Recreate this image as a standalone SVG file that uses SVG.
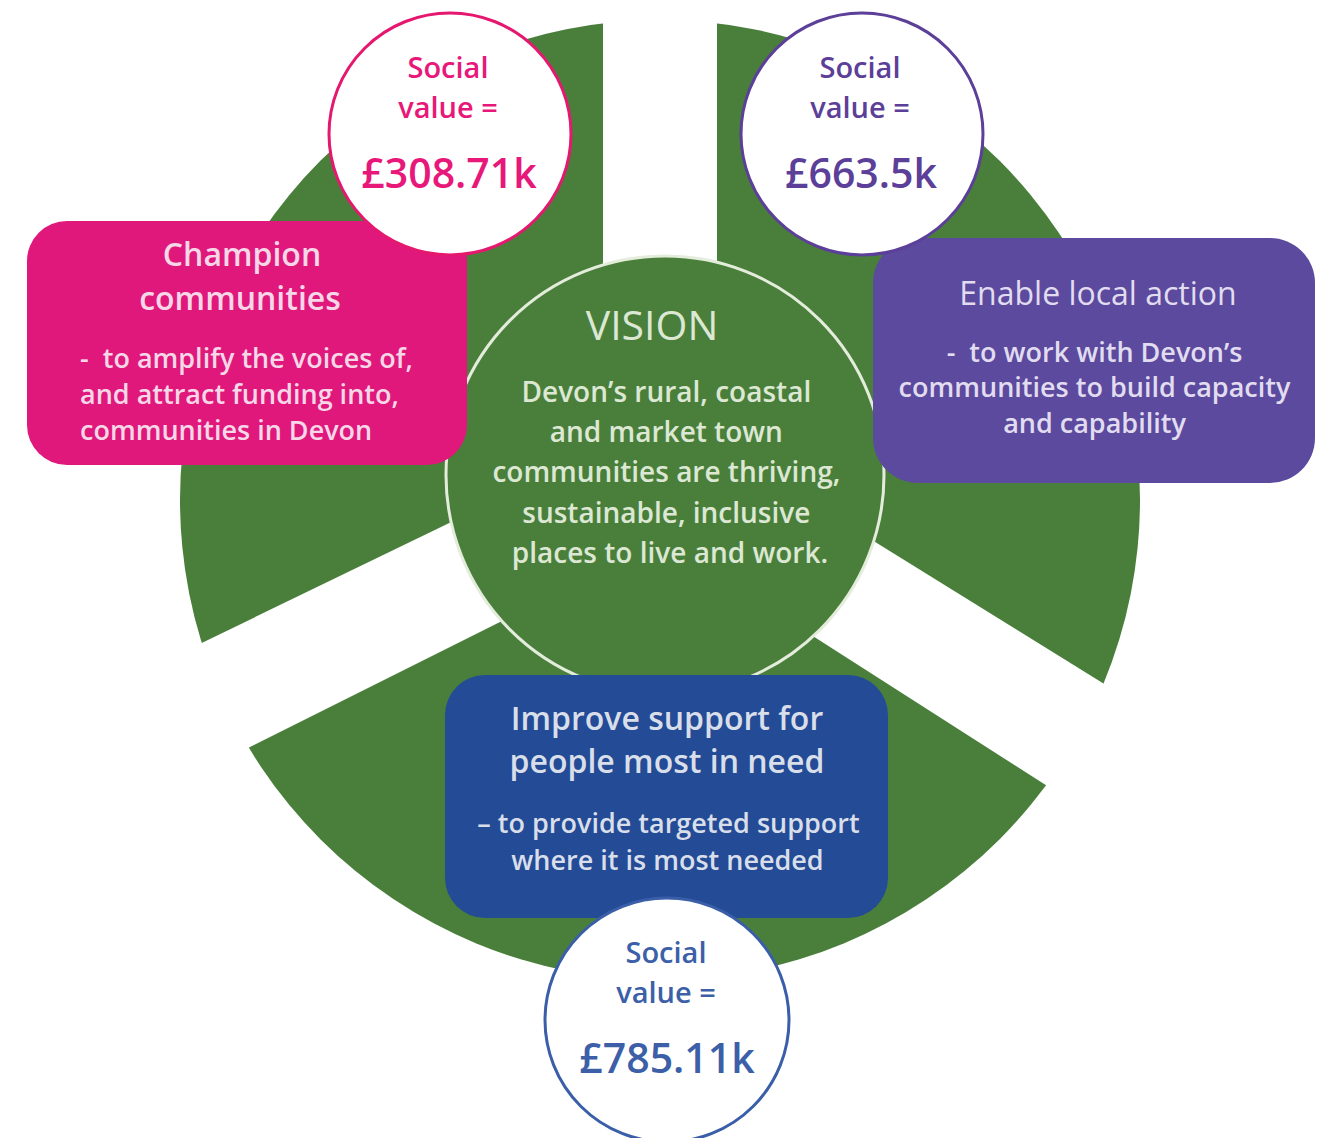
<svg xmlns="http://www.w3.org/2000/svg" width="1332" height="1138" viewBox="0 0 1332 1138">
<defs>
<style>
.bg{fill:#ffffff}
.green{fill:#4a7f3b}
.gap{fill:#ffffff}
.vision{fill:#4a7f3b;stroke:#e4ecdc;stroke-width:3}
.pinkbox{fill:#e0187c}
.purplebox{fill:#5b4a9e}
.bluebox{fill:#244b95}
.sv{fill:#ffffff;stroke-width:3}
.t{font-family:"Open Sans","Noto Sans",sans-serif;text-anchor:middle}
.title{font-size:32px;font-weight:600}
.body{font-size:27px;font-weight:600;white-space:pre}
.vt{fill:#dce8d3}
.pt{fill:#f6d7e7}
.ut{fill:#e1dcef}
.bt{fill:#d9dfea}
.svs{font-size:29px;font-weight:600}
.sva{font-size:41px;font-weight:600}
</style>
</defs>
<rect class="bg" x="0" y="0" width="1332" height="1138"/>
<g id="wheel">
<circle class="green" cx="660" cy="500" r="480"/>
<rect class="gap" x="603" y="0" width="114" height="300"/>
<polygon class="gap" points="150,668 600,450 600,572 150,797"/>
<polygon class="gap" points="730,452 1180,731 1180,871 730,583"/>
</g>
<g id="connectors"></g>
<g id="vision">
<circle class="vision" cx="665" cy="475" r="219"/>
<text class="t vt" x="652" y="340" style="font-size:41px;font-weight:400">VISION</text>
<text class="t vt" style="font-size:28px;font-weight:600">
<tspan x="670" y="402">Devon’s rural, coastal</tspan>
<tspan x="670" y="442">and market town</tspan>
<tspan x="670" y="482">communities are thriving,</tspan>
<tspan x="670" y="523">sustainable, inclusive</tspan>
<tspan x="670" y="563">places to live and work.</tspan>
</text>
</g>
<g id="champion">
<rect class="pinkbox" x="27" y="221" width="440" height="244" rx="40"/>
<text class="t title pt" x="242" y="266">Champion</text>
<text class="t title pt" x="240" y="310">communities</text>
<text class="t body pt" style="text-anchor:start">
<tspan x="80" y="368">-  to amplify the voices of,</tspan>
<tspan x="80" y="404">and attract funding into,</tspan>
<tspan x="80" y="440">communities in Devon</tspan>
</text>
</g>
<g id="enable">
<rect class="purplebox" x="873" y="238" width="442" height="245" rx="45"/>
<text class="t ut" x="1098" y="305" style="font-size:32px;font-weight:500">Enable local action</text>
<text class="t body ut">
<tspan x="1098" y="362">-  to work with Devon’s</tspan>
<tspan x="1098" y="397">communities to build capacity</tspan>
<tspan x="1098" y="433">and capability</tspan>
</text>
</g>
<g id="improve">
<rect class="bluebox" x="445" y="675" width="443" height="243" rx="40"/>
<text class="t title bt" x="667" y="730">Improve support for</text>
<text class="t title bt" x="667" y="773">people most in need</text>
<text class="t body bt">
<tspan x="672" y="833">– to provide targeted support</tspan>
<tspan x="671" y="870">where it is most needed</tspan>
</text>
</g>
<g id="sv-champion">
<circle class="sv" cx="450" cy="134" r="121" stroke="#e5186f"/>
<text class="t svs" x="448" y="78" fill="#e8177a">Social</text>
<text class="t svs" x="448" y="118" fill="#e8177a">value =</text>
<text class="t sva" x="449" y="188" fill="#e8177a">£308.71k</text>
</g>
<g id="sv-enable">
<circle class="sv" cx="862" cy="134" r="121" stroke="#5b3f98"/>
<text class="t svs" x="860" y="78" fill="#5c3f99">Social</text>
<text class="t svs" x="860" y="118" fill="#5c3f99">value =</text>
<text class="t sva" x="861" y="188" fill="#5c3f99">£663.5k</text>
</g>
<g id="sv-improve">
<circle class="sv" cx="667" cy="1020" r="122" stroke="#3a5fa8"/>
<text class="t svs" x="666" y="963" fill="#3c5fa8">Social</text>
<text class="t svs" x="666" y="1003" fill="#3c5fa8">value =</text>
<text class="t sva" x="667" y="1073" fill="#3c5fa8">£785.11k</text>
</g>
</svg>
